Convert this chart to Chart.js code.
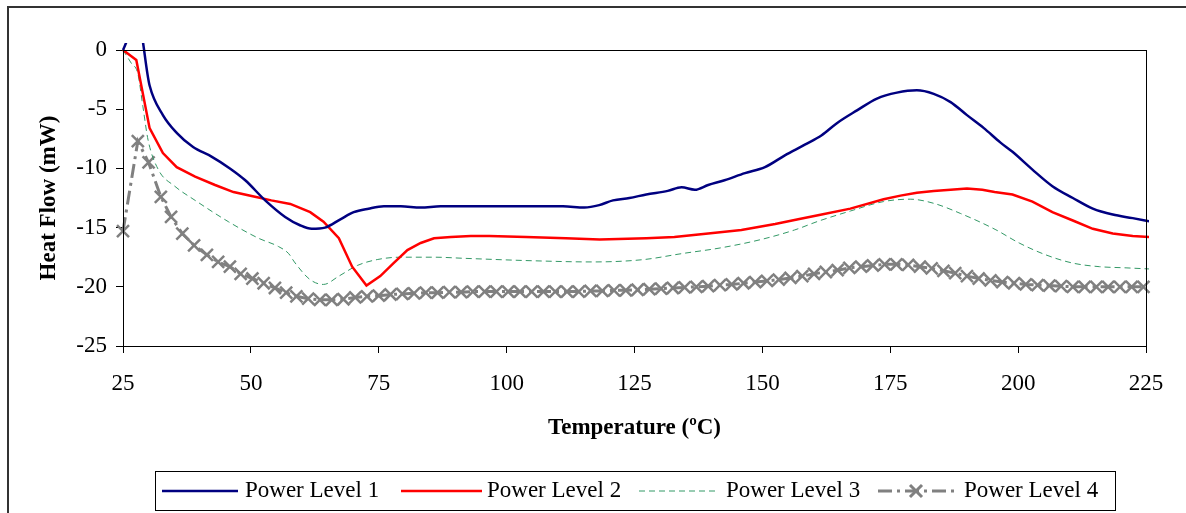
<!DOCTYPE html>
<html lang="en">
<head>
  <meta charset="UTF-8" />
  <title>Heat Flow vs Temperature</title>
  <script src="https://cdn.jsdelivr.net/npm/chart.js"></script>
  <style>
    html, body { margin: 0; padding: 0; background: #fff; overflow: hidden; }
    #wrap { position: relative; width: 1186px; height: 513px; }
  </style>
</head>
<body>
  <div id="wrap">
    <canvas id="heatChart" width="1186" height="513"></canvas>
  </div>

  <script>
    // Power Level 1
    const temps1 = [25, 27.9, 30.2, 32.8, 35.5, 38.7, 42.3, 45.9, 48.9, 52.8, 56.7, 59.6, 61.9, 64.5, 67.5, 70.1, 73.0, 76.0, 79.3, 83.2, 87.1, 93, 100, 107, 111, 115.2, 118.1, 120.8, 124, 127.3, 131.5, 134.2, 136.8, 139.4, 142.6, 146.6, 150.5, 154.4, 158.3, 161.6, 164.5, 168.5, 172.4, 176.3, 180.2, 183.5, 186.8, 190, 193.3, 196.5, 198.9, 202.8, 206.7, 210.7, 214.6, 218.5, 222.4, 226];
    const heat1 = [0, 2.5, -3.0, -5.5, -7.0, -8.2, -9.0, -10.0, -11.0, -12.7, -14.1, -14.8, -15.1, -15.0, -14.3, -13.7, -13.4, -13.2, -13.2, -13.3, -13.2, -13.2, -13.2, -13.2, -13.2, -13.3, -13.1, -12.7, -12.5, -12.2, -11.9, -11.6, -11.8, -11.4, -11.0, -10.4, -9.9, -8.9, -8.0, -7.2, -6.2, -5.1, -4.1, -3.6, -3.4, -3.7, -4.4, -5.5, -6.6, -7.8, -8.6, -10.1, -11.5, -12.5, -13.4, -13.9, -14.2, -14.5];

    // Power Level 2
    const temps2 = [25, 27.6, 30.2, 32.8, 35.5, 39.1, 43, 46.6, 50.8, 54, 57.7, 61.6, 64.2, 67.2, 69.8, 72.6, 75.3, 77.9, 80.6, 83.2, 85.8, 89.1, 93, 96.6, 103.8, 111.6, 118.2, 127.3, 132.8, 139.4, 145.9, 152.5, 157, 161.6, 167.2, 173.7, 177, 180.2, 183.5, 186.8, 190, 193, 195.4, 198.9, 202.8, 206.7, 210.7, 214.6, 218.5, 222.4, 226];
    const heat2 = [0, -0.85, -6.6, -8.7, -9.9, -10.7, -11.4, -12.0, -12.4, -12.7, -13.0, -13.7, -14.5, -15.9, -18.3, -19.9, -19.1, -18.0, -16.9, -16.3, -15.9, -15.8, -15.7, -15.7, -15.8, -15.9, -16.0, -15.9, -15.8, -15.5, -15.2, -14.7, -14.3, -13.9, -13.4, -12.6, -12.3, -12.05, -11.9, -11.8, -11.7, -11.8, -12.0, -12.2, -12.8, -13.7, -14.4, -15.1, -15.5, -15.7, -15.8];

    // Power Level 3
    const temps3 = [25, 26.6, 27.9, 28.9, 29.9, 31.9, 35.1, 39.1, 45.6, 51.5, 55.4, 57.4, 58.5, 61.6, 64.2, 67.2, 70.8, 74.7, 79.3, 85.8, 92, 105.1, 116.8, 126.8, 134.2, 142, 149.8, 156.3, 161, 167.2, 173.7, 178.9, 183.5, 188.7, 195.5, 200.2, 205.4, 210.7, 215.9, 221.1, 226];
    const heat3 = [0, -1.1, -2.0, -4.8, -7.6, -10.1, -11.5, -12.7, -14.5, -15.9, -16.6, -17.2, -17.9, -19.4, -19.8, -19.1, -18.2, -17.7, -17.5, -17.5, -17.6, -17.8, -17.9, -17.7, -17.2, -16.7, -16.0, -15.2, -14.45, -13.6, -12.8, -12.6, -12.95, -13.8, -15.15, -16.3, -17.3, -18.0, -18.3, -18.4, -18.5];

    // Power Level 4
    const temps4 = [25, 27.9, 30.0, 32.4, 34.4, 36.6, 38.9, 41.4, 43.6, 45.9, 48.0, 50.3, 52.5, 54.7, 56.9, 58.9,
      61.2, 63.5, 65.8, 68.1, 70.4, 72.7, 75.0, 77.3, 79.6, 81.9, 84.2, 86.5, 88.8, 91.1, 93.4, 95.7, 98.0, 100.3,
      102.6, 104.9, 107.2, 109.5, 111.8, 114.1, 116.4, 118.7, 121.0, 123.3, 125.6, 127.9, 130.2, 132.5, 134.8, 137.1,
      139.4, 141.7, 144.0, 146.3, 148.6, 150.9, 153.2, 155.5, 157.8, 160.1, 162.4, 164.7, 167.0, 169.3, 171.6, 173.9,
      176.2, 178.5, 180.8, 183.1, 185.4, 187.7, 190.0, 192.3, 194.6, 196.9, 199.2, 201.5, 203.8, 206.1, 208.4, 210.7,
      213.0, 215.3, 217.6, 219.9, 222.2, 224.5];
    const heat4 = [-15.3, -7.7, -9.5, -12.4, -14.1, -15.5, -16.5, -17.3, -17.9, -18.3, -18.9, -19.3, -19.7, -20.1, -20.5, -20.8,
      -21.0, -21.1, -21.1, -21.05, -20.9, -20.8, -20.75, -20.65, -20.6, -20.55, -20.5, -20.5, -20.45, -20.45, -20.4, -20.4, -20.4, -20.4,
      -20.4, -20.4, -20.4, -20.4, -20.4, -20.4, -20.35, -20.35, -20.3, -20.3, -20.25, -20.2, -20.15, -20.1, -20.05, -20.0,
      -19.95, -19.85, -19.8, -19.7, -19.6, -19.5, -19.4, -19.25, -19.1, -18.9, -18.75, -18.6, -18.4, -18.3, -18.2, -18.1,
      -18.1, -18.15, -18.3, -18.45, -18.65, -18.85, -19.1, -19.3, -19.45, -19.6, -19.7, -19.8, -19.85, -19.9, -19.95, -20.0,
      -20.0, -20.0, -20.0, -20.0, -20.0, -20.0];

    const seriesNames = ['Power Level 1', 'Power Level 2', 'Power Level 3', 'Power Level 4'];
    const xTicks = { min: 25, max: 225, step: 25 };
    const yTicks = { min: -25, max: 0, step: 5 };

    const FONT = 'Liberation Serif, Times New Roman, serif';

    function pairs(ts, vs) {
      return ts.map((t, i) => ({ x: t, y: vs[i] }));
    }

    // frame round the whole figure, border round plot area, and the boxed legend
    const frameAndLegend = {
      id: 'frameAndLegend',
      beforeDraw(chart) {
        const ctx = chart.ctx;
        ctx.save();
        ctx.fillStyle = '#fff';
        ctx.fillRect(0, 0, chart.width, chart.height);
        ctx.strokeStyle = '#333';
        ctx.lineWidth = 2;
        ctx.strokeRect(8, 7, 1200, 540);
        ctx.restore();
      },
      afterDraw(chart) {
        const ctx = chart.ctx;
        const a = chart.chartArea;
        ctx.save();
        ctx.strokeStyle = '#000';
        ctx.lineWidth = 1;
        ctx.strokeRect(Math.round(a.left) + 0.5, Math.round(a.top) + 0.5,
          Math.round(a.right - a.left), Math.round(a.bottom - a.top));

        // legend box
        ctx.strokeRect(155.5, 471.5, 960, 39);
        const cy = 491;
        const slots = [[162, 238, 245], [401, 482, 487], [639, 719, 726], [878, 954, 964]];
        chart.data.datasets.forEach((ds, i) => {
          const [x0, x1, tx] = slots[i];
          ctx.save();
          ctx.strokeStyle = ds.borderColor;
          ctx.lineWidth = ds.borderWidth;
          ctx.setLineDash(ds.borderDash || []);
          ctx.beginPath();
          ctx.moveTo(x0, cy);
          ctx.lineTo(x1, cy);
          ctx.stroke();
          if (ds.pointRadius > 0) {
            ctx.setLineDash([]);
            Chart.helpers.drawPoint(ctx, {
              pointStyle: ds.pointStyle, radius: ds.pointRadius,
              rotation: 0, borderWidth: ds.pointBorderWidth
            }, (x0 + x1) / 2, cy);
          }
          ctx.restore();
          ctx.fillStyle = '#000';
          ctx.font = '23px ' + FONT;
          ctx.textBaseline = 'middle';
          ctx.textAlign = 'left';
          ctx.fillText(ds.label, tx, cy);
        });
        ctx.restore();
      }
    };

    const ctx = document.getElementById('heatChart').getContext('2d');
    new Chart(ctx, {
      type: 'line',
      data: {
        datasets: [
          {
            label: seriesNames[0],
            data: pairs(temps1, heat1),
            borderColor: '#000080',
            borderWidth: 2.5,
            pointRadius: 0,
            cubicInterpolationMode: 'monotone',
            clip: { left: 2, top: 7, right: 3, bottom: 2 }
          },
          {
            label: seriesNames[1],
            data: pairs(temps2, heat2),
            borderColor: '#ff0000',
            borderWidth: 2.5,
            pointRadius: 0,
            tension: 0,
            clip: { left: 2, top: 7, right: 3, bottom: 2 }
          },
          {
            label: seriesNames[2],
            data: pairs(temps3, heat3),
            borderColor: '#339966',
            borderWidth: 1,
            borderDash: [6, 4],
            pointRadius: 0,
            cubicInterpolationMode: 'monotone',
            clip: { left: 2, top: 7, right: 3, bottom: 2 }
          },
          {
            label: seriesNames[3],
            data: pairs(temps4, heat4),
            borderColor: '#808080',
            backgroundColor: '#808080',
            borderWidth: 3,
            borderDash: [14, 5, 3, 5],
            pointStyle: 'crossRot',
            pointRadius: 8.5,
            pointBorderWidth: 2.5,
            pointBorderColor: '#808080',
            tension: 0,
            clip: { left: 10, top: 7, right: 10, bottom: 2 }
          }
        ]
      },
      options: {
        responsive: false,
        animation: false,
        events: [],
        layout: { padding: { top: 50, right: 40, bottom: 67, left: 0 } },
        scales: {
          x: {
            type: 'linear',
            min: xTicks.min,
            max: xTicks.max,
            afterFit(scale) { scale.height = 100; },
            ticks: {
              stepSize: xTicks.step,
              color: '#000',
              font: { family: FONT, size: 23 },
              padding: 17,
              maxRotation: 0
            },
            grid: { drawOnChartArea: false, drawTicks: true, tickLength: 7, color: '#000' },
            border: { display: true, color: '#000', width: 1 },
            title: {
              display: true,
              text: 'Temperature (ºC)',
              color: '#000',
              font: { family: FONT, size: 23, weight: 'bold' },
              padding: { top: 4, bottom: 4 }
            }
          },
          y: {
            min: yTicks.min,
            max: yTicks.max,
            afterFit(scale) { scale.width = 123; },
            ticks: {
              stepSize: yTicks.step,
              color: '#000',
              font: { family: FONT, size: 23 },
              padding: 9
            },
            grid: { drawOnChartArea: false, drawTicks: true, tickLength: 7, color: '#000' },
            border: { display: true, color: '#000', width: 1 },
            title: {
              display: true,
              text: 'Heat Flow (mW)',
              color: '#000',
              font: { family: FONT, size: 23, weight: 'bold' },
              padding: { top: 35, bottom: 0 }
            }
          }
        },
        plugins: {
          legend: { display: false },
          tooltip: { enabled: false }
        }
      },
      plugins: [frameAndLegend]
    });
  </script>
</body>
</html>
